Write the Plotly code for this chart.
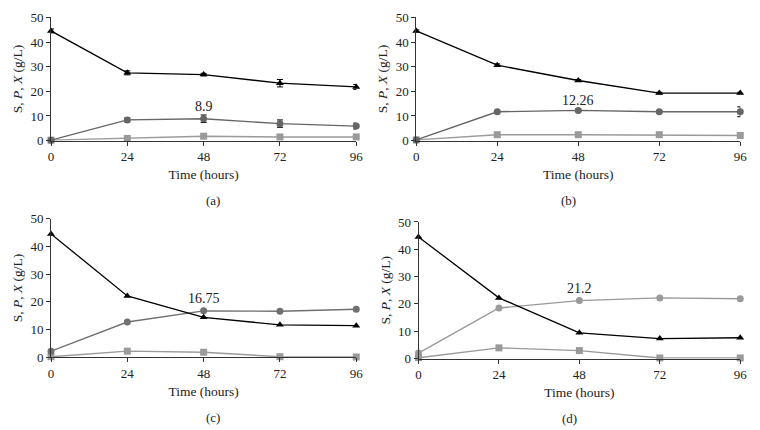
import plotly.graph_objects as go

# time points (hours)
time_h = [0, 24, 48, 72, 96]

# substrate S (g/L) for panels a-d
s_a = [44.5, 27.5, 26.8, 23.3, 21.8]
s_b = [44.5, 30.6, 24.4, 19.3, 19.3]
s_c = [44.5, 22.1, 14.4, 11.7, 11.4]
s_d = [44.5, 22.2, 9.4, 7.3, 7.6]

# product P (g/L)
p_a = [0.2, 8.4, 8.9, 6.9, 5.9]
p_b = [0.3, 11.7, 12.26, 11.7, 11.7]
p_c = [2.2, 12.7, 16.75, 16.6, 17.3]
p_d = [2.0, 18.5, 21.2, 22.2, 21.9]

# biomass X (g/L)
x_a = [0.2, 0.9, 1.8, 1.5, 1.5]
x_b = [0.3, 2.4, 2.4, 2.4, 2.1]
x_c = [0.2, 2.2, 1.8, 0.2, 0.1]
x_d = [0.3, 3.9, 2.9, 0.2, 0.2]

# error bars
s_err_a = [0.8, 0.8, 0.5, 1.5, 1.0]
p_err_a = [0.3, 0.8, 1.5, 1.5, 1.2]
s_err_b = [0.4, 0.5, 0.4, 0.3, 0.3]
p_err_b = [0.3, 0.4, 0.5, 0.4, 2.0]

peak_labels = ["8.9", "12.26", "16.75", "21.2"]
peak_y = [14.0, 16.4, 21.1, 25.7]
panel_tags = ["(a)", "(b)", "(c)", "(d)"]

panels = [
    dict(s=s_a, p=p_a, x=x_a, se=s_err_a, pe=p_err_a, pcol="#666666",
         xd=[0.064, 0.471], yd=[0.678, 0.975]),
    dict(s=s_b, p=p_b, x=x_b, se=s_err_b, pe=p_err_b, pcol="#666666",
         xd=[0.551, 0.983], yd=[0.678, 0.975]),
    dict(s=s_c, p=p_c, x=x_c, se=None, pe=None, pcol="#707070",
         xd=[0.064, 0.471], yd=[0.156, 0.490]),
    dict(s=s_d, p=p_d, x=x_d, se=None, pe=None, pcol="#9a9a9a",
         xd=[0.554, 0.983], yd=[0.153, 0.482]),
]

FONT = "'Liberation Serif', 'DejaVu Serif', serif"

fig = go.Figure()
layout_axes = {}
annotations = []


def err(v):
    if v is None:
        return None
    return dict(type="data", array=v, visible=True, color="black", thickness=1, width=3)


for i, pn in enumerate(panels):
    n = "" if i == 0 else str(i + 1)
    xa, ya = "x" + n, "y" + n

    # X (biomass) - light grey squares
    fig.add_trace(go.Scatter(
        x=time_h, y=pn["x"], mode="lines+markers", xaxis=xa, yaxis=ya,
        line=dict(color="#9a9a9a", width=1.4),
        marker=dict(symbol="square", size=7, color="#9a9a9a"),
        cliponaxis=False, showlegend=False))
    # P (product) - grey circles
    fig.add_trace(go.Scatter(
        x=time_h, y=pn["p"], mode="lines+markers", xaxis=xa, yaxis=ya,
        line=dict(color=pn["pcol"], width=1.4),
        marker=dict(symbol="circle", size=7, color=pn["pcol"]),
        error_y=err(pn["pe"]),
        cliponaxis=False, showlegend=False))
    # S (substrate) - black triangles
    fig.add_trace(go.Scatter(
        x=time_h, y=pn["s"], mode="lines+markers", xaxis=xa, yaxis=ya,
        line=dict(color="black", width=1.3),
        marker=dict(symbol="triangle-up", size=7, color="black"),
        error_y=err(pn["se"]),
        cliponaxis=False, showlegend=False))

    layout_axes["xaxis" + n] = dict(
        domain=pn["xd"], anchor=ya, range=[0, 96], tickvals=time_h,
        showgrid=False, zeroline=False, showline=True, linecolor="#333333", linewidth=1,
        ticks="outside", ticklen=4, tickcolor="#333333",
        tickfont=dict(family=FONT, size=13, color="#222222"),
        title=dict(text="Time (hours)", standoff=6,
                   font=dict(family=FONT, size=13.5, color="#222222")))
    layout_axes["yaxis" + n] = dict(
        domain=pn["yd"], anchor=xa, range=[0, 50], dtick=10,
        showgrid=False, zeroline=False, showline=True, linecolor="#333333", linewidth=1,
        ticks="outside", ticklen=4, tickcolor="#333333",
        tickfont=dict(family=FONT, size=13, color="#222222"),
        title=dict(text="S, <i>P</i>, <i>X</i> (g/L)", standoff=4,
                   font=dict(family=FONT, size=13.5, color="#222222")))

    annotations.append(dict(
        x=48, y=peak_y[i], xref=xa, yref=ya, text=peak_labels[i], showarrow=False,
        font=dict(family=FONT, size=14, color="#222222")))
    xmid = (pn["xd"][0] + pn["xd"][1]) / 2
    annotations.append(dict(
        x=xmid, y=pn["yd"][0] - 0.145, xref="paper", yref="paper", text=panel_tags[i],
        showarrow=False, yanchor="middle",
        font=dict(family=FONT, size=13, color="#222222")))

fig.update_layout(
    width=760, height=430,
    margin=dict(l=0, r=0, t=0, b=0),
    paper_bgcolor="white", plot_bgcolor="white",
    font=dict(family=FONT),
    annotations=annotations,
    **layout_axes)

fig.write_html("out.html", config={"displayModeBar": False},
               post_script="document.body.style.margin='0';")
